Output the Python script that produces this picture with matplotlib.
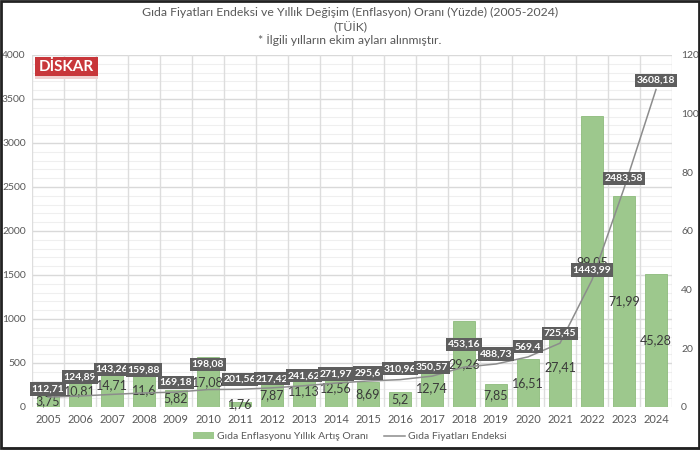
import numpy as np
import matplotlib.pyplot as plt
from matplotlib.patches import Rectangle, Patch
from matplotlib.lines import Line2D
from matplotlib.ticker import MultipleLocator

plt.rcParams['font.family'] = ['Lato', 'DejaVu Sans']

# data
years = [str(y) for y in range(2005, 2025)]
index_vals = [112.71, 124.89, 143.26, 159.88, 169.18, 198.08, 201.56, 217.42,
              241.62, 271.97, 295.6, 310.96, 350.57, 453.16, 488.73, 569.4,
              725.45, 1443.99, 2483.58, 3608.18]
infl_vals = [3.75, 10.81, 14.71, 11.6, 5.82, 17.08, 1.76, 7.87, 11.13, 12.56,
             8.69, 5.2, 12.74, 29.26, 7.85, 16.51, 27.41, 99.05, 71.99, 45.28]
# label lift above the line point, pixels (some labels were moved by hand)
label_lift = [8, 19, 25, 23, 10, 25, 10, 9, 10, 9,
              8, 11, 9, 23, 10, 10, 10, 10, 10, 9]

bar_color = '#9DC88D'
line_color = '#8C8C8C'
txt_gray = '#595959'

fig = plt.figure(figsize=(7, 4.5), dpi=100)
ax = fig.add_axes([32 / 700, 43 / 450, 640 / 700, 352 / 450])
ax2 = ax.twinx()

x = np.arange(len(years))

# bars on the right axis (0-120)
ax2.bar(x, infl_vals, width=0.66, color=bar_color, edgecolor='#8DBB7C',
        linewidth=0.6, zorder=2)
for xi, v in zip(x, infl_vals):
    ax2.text(xi, v / 2, f'{v:g}'.replace('.', ','), ha='center', va='center',
             fontsize=9, color='#3A3A3A', zorder=5)

# line on the left axis (0-4000)
ax.plot(x, index_vals, color=line_color, linewidth=1.1, zorder=3)
ax.set_zorder(ax2.get_zorder() + 1)
ax.patch.set_visible(False)
for xi, v, lift in zip(x, index_vals, label_lift):
    ax.annotate(f'{v:g}'.replace('.', ','), (xi, v), xytext=(0, lift),
                textcoords='offset pixels', ha='center', va='center',
                fontsize=7.5, fontweight='bold', color='white', zorder=6,
                bbox=dict(boxstyle='square,pad=0.2', fc='#5E5E5E', ec='none'))

ax.set_xlim(-0.5, len(years) - 0.5)
ax.set_ylim(0, 4000)
ax2.set_ylim(0, 120)
ax.yaxis.set_major_locator(MultipleLocator(500))
ax2.yaxis.set_major_locator(MultipleLocator(20))

ax.set_xticks(x)
ax.set_xticklabels(years)

# grid
for yv in np.arange(100, 4001, 100):
    major = yv % 500 == 0
    ax2.axhline(yv * 120 / 4000, color='#D9D9D9' if major else '#EFEFEF',
                linewidth=1.0 if major else 0.8, zorder=0)
for xv in np.arange(-0.5, len(years)):
    ax2.axvline(xv, color='#DDDDDD', linewidth=1.0, zorder=0)

for a in (ax, ax2):
    for s in a.spines.values():
        s.set_visible(False)
    a.tick_params(which='both', length=0, labelsize=8, labelcolor=txt_gray)
ax.tick_params(axis='x', pad=5)
ax.tick_params(axis='y', pad=4.5, labelsize=7.5)
ax2.tick_params(axis='y', pad=6.5, labelsize=7.5)

# titles
fig.text(0.5, 0.972, 'Gıda Fiyatları Endeksi ve Yıllık Değişim (Enflasyon) Oranı (Yüzde) (2005-2024)',
         ha='center', va='center', fontsize=8.8, color=txt_gray)
fig.text(0.5, 0.94, '(TÜİK)', ha='center', va='center', fontsize=8.8, color=txt_gray)
fig.text(0.5, 0.91, '* İlgili yılların ekim ayları alınmıştır.', ha='center', va='center',
         fontsize=8.8, color=txt_gray)

# legend
handles = [Patch(facecolor=bar_color, edgecolor='none'),
           Line2D([0], [0], color=line_color, linewidth=1.1)]
fig.legend(handles, ['Gıda Enflasyonu Yıllık Artış Oranı', 'Gıda Fiyatları Endeksi'],
           loc='center', bbox_to_anchor=(0.5, 0.03), ncol=2, frameon=False,
           fontsize=7.5, labelcolor=txt_gray, handlelength=2.0, handleheight=0.6,
           columnspacing=1.5, handletextpad=0.3)

# logo
fig.patches.append(Rectangle((35 / 700, 1 - 76 / 450), 63 / 700, 19 / 450,
                             transform=fig.transFigure, facecolor='#C8363A',
                             edgecolor='none', zorder=10))
fig.text(66 / 700, 1 - 66.5 / 450, 'DİSKAR', ha='center', va='center', fontsize=11,
         fontweight='bold', color='white', zorder=11)
fig.patches.append(Rectangle((35 / 700, 1 - 79 / 450), 63 / 700, 3 / 450,
                             transform=fig.transFigure, facecolor='#F0D0D0',
                             edgecolor='none', zorder=10))

# outer frame
fig.patches.append(Rectangle((0.002, 0.004), 0.996, 0.993, transform=fig.transFigure,
                             fill=False, edgecolor='#222222', linewidth=2.0, zorder=20))
fig.patches.append(Rectangle((0.004, 0.0), 0.996, 0.006, transform=fig.transFigure,
                             facecolor='#BBBBBB', edgecolor='none', zorder=19))

fig.savefig('out.png', dpi=100)
